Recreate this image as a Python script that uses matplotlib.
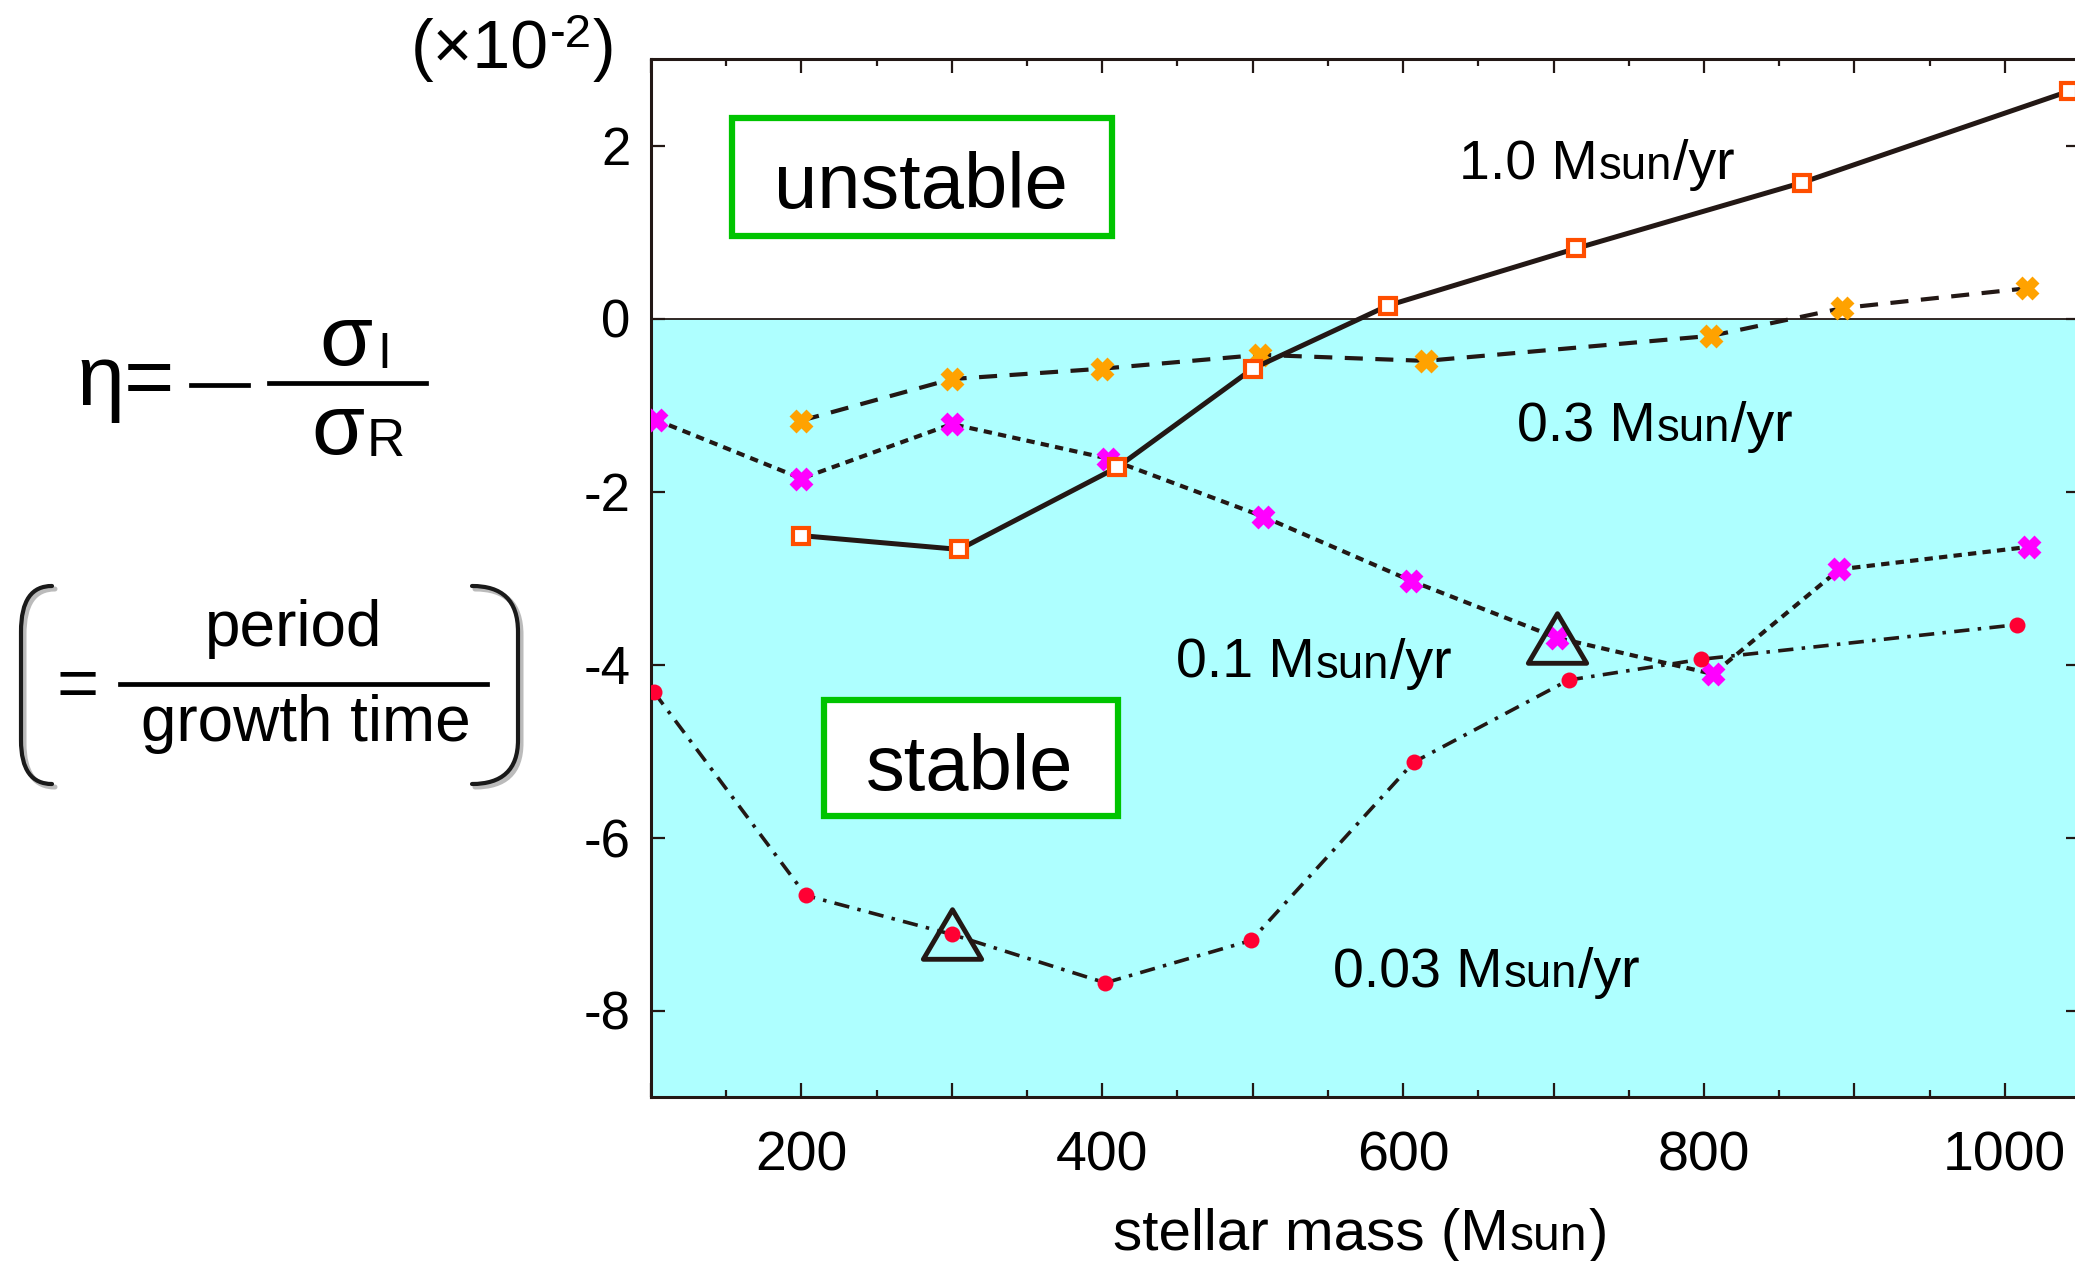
import matplotlib
matplotlib.use("Agg")
import matplotlib.pyplot as plt
import matplotlib.font_manager as fm
from matplotlib.path import Path
from matplotlib.patches import PathPatch, Rectangle
from matplotlib.transforms import IdentityTransform
from matplotlib.lines import Line2D
from matplotlib.markers import MarkerStyle
from matplotlib.ticker import FixedLocator, MultipleLocator

# ---------------- data ----------------
mass_10 = [200, 305, 410, 500, 590, 715, 865, 1043]
eta_10 = [-2.51, -2.67, -1.72, -0.58, 0.15, 0.81, 1.57, 2.63]

mass_03 = [200, 300, 400, 505, 615, 805, 892, 1015]
eta_03 = [-1.18, -0.70, -0.58, -0.42, -0.49, -0.20, 0.12, 0.35]

mass_01 = [103, 200, 300, 404, 507, 605, 702, 806, 890, 1016]
eta_01 = [-1.17, -1.85, -1.22, -1.62, -2.29, -3.03, -3.69, -4.11, -2.90, -2.64]

mass_003 = [102, 203, 300, 402, 499, 607, 710, 798, 1008]
eta_003 = [-4.32, -6.67, -7.12, -7.68, -7.19, -5.13, -4.18, -3.94, -3.54]

tri_mass = [300, 702]
tri_eta = [-7.12, -3.69]

x_major = [100, 200, 300, 400, 500, 600, 700, 800, 900, 1000]
x_labels = ["", "200", "", "400", "", "600", "", "800", "", "1000"]
y_ticks = [-8, -6, -4, -2, 0, 2]
y_labels = ["-8", "-6", "-4", "-2", "0", "2"]

series_labels = ["1.0 M", "0.3 M", "0.1 M", "0.03 M"]

# ---------------- style ----------------
plt.rcParams["font.family"] = ["Liberation Sans", "DejaVu Sans"]
plt.rcParams["axes.unicode_minus"] = False
plt.rcParams["lines.scale_dashes"] = False

names = {f.name for f in fm.fontManager.ttflist}
if "Liberation Sans Narrow" in names:
    SUN_FAM, SUN_SCALE = ["Liberation Sans Narrow", "DejaVu Sans"], 1.0
else:
    SUN_FAM, SUN_SCALE = ["Liberation Sans", "DejaVu Sans"], 0.82

LC = "#231815"
W, H, DPI = 2075, 1261, 100
fig = plt.figure(figsize=(W / DPI, H / DPI), dpi=DPI)
fig.patch.set_facecolor("white")
IDT = IdentityTransform()

# axes placement (pixels)
ax_l, ax_r, ax_t, ax_b = 651, 2080, 59, 1097
ax = fig.add_axes([ax_l / W, 1 - ax_b / H, (ax_r - ax_l) / W, (ax_b - ax_t) / H])
ax.set_xlim(100, 1050)
ax.set_ylim(-9, 3)

ax.axhspan(-9, 0, color="#AEFFFF", zorder=0, lw=0)
ax.axhline(0, color=LC, lw=1.3, zorder=1)

ax.plot(mass_10, eta_10, color=LC, lw=3.6, marker="s", ms=11.5, mfc="white",
        mec="#FF4E00", mew=3.0, zorder=4)
ax.plot(mass_03, eta_03, color=LC, lw=3.0, ls=(0, (13, 9)), marker="X", ms=14,
        mfc="#FFA200", mec="#FFA200", mew=2.0, zorder=3)
ax.plot(mass_01, eta_01, color=LC, lw=3.0, ls=(0, (6, 4.5)), marker="X", ms=14,
        mfc="#FF00FF", mec="#FF00FF", mew=2.0, zorder=3)
ax.plot(mass_003, eta_003, color=LC, lw=2.6, ls=(0, (11, 6, 2.5, 6)), marker="o",
        ms=11.5, mfc="#FF0033", mec="#FF0033", mew=0, zorder=3)

tri_path = Path([(-1, -0.85), (1, -0.85), (0, 0.85), (-1, -0.85)],
                [Path.MOVETO, Path.LINETO, Path.LINETO, Path.CLOSEPOLY])
ax.plot(tri_mass, tri_eta, ls="none", marker=MarkerStyle(tri_path, joinstyle="miter"),
        ms=42, mfc="none", mec=LC, mew=3.5, zorder=6)

ax.xaxis.set_major_locator(FixedLocator(x_major))
ax.set_xticklabels(x_labels)
ax.xaxis.set_minor_locator(MultipleLocator(50))
ax.set_yticks(y_ticks)
ax.set_yticklabels(y_labels)
ax.tick_params(which="both", direction="in", top=True, right=True, color=LC, width=1.6)
ax.tick_params(which="major", length=10)
ax.tick_params(which="minor", length=5)
ax.tick_params(axis="x", labelsize=40, pad=24)
ax.tick_params(axis="y", labelsize=38, pad=15)
for sp in ax.spines.values():
    sp.set_linewidth(2.2)
    sp.set_color(LC)

renderer = fig.canvas.get_renderer()


def rich(x, y, parts):
    """parts: (text, size, dy, family); x,y in px from top-left, y is baseline."""
    for s, size, dy, fam in parts:
        t = fig.text(x, H - (y + dy), s, transform=IDT, ha="left", va="baseline",
                     fontsize=size, family=fam, color="black")
        bb = t.get_window_extent(renderer)
        x = bb.x1 + 1


MAIN = ["Liberation Sans", "DejaVu Sans"]
S = 40
label_pos = [(1459, 179), (1517, 441), (1176, 678), (1333, 987)]
for lab, (px, py) in zip(series_labels, label_pos):
    rich(px, py, [(lab, S, 0, MAIN), ("sun", S * SUN_SCALE, 0, SUN_FAM), ("/yr", S, 0, MAIN)])

# x axis label
rich(1113, 1250, [("stellar mass (M", 42, 0, MAIN), ("sun", 42 * SUN_SCALE, 0, SUN_FAM),
                  (")", 42, 0, MAIN)])

# (x10^-2)
rich(411, 68, [("(×10", 49, 0, MAIN), ("-2", 34, -21, MAIN), (")", 49, 0, MAIN)])

# stable / unstable boxes
for (x0, y0, x1, y1), txt, cx, by in [((732, 118, 1112, 236), "unstable", 921, 208),
                                       ((824, 700, 1118, 816), "stable", 970, 790)]:
    fig.add_artist(Rectangle((x0, H - y1), x1 - x0, y1 - y0, transform=IDT,
                             fc="white", ec="#00C400", lw=4.5, zorder=5))
    fig.text(cx, H - by, txt, transform=IDT, ha="center", va="baseline",
             fontsize=56, color="black", zorder=6)

# equation eta = - sigma_I / sigma_R
fig.text(77, H - 405, "η=", transform=IDT, ha="left", va="baseline", fontsize=62)
fig.add_artist(Line2D([191, 248], [H - 385, H - 385], transform=IDT, color="black", lw=3.4))
fig.add_artist(Line2D([269, 426], [H - 383, H - 383], transform=IDT, color="black", lw=3.4))
fig.text(319, H - 365, "σ", transform=IDT, ha="left", va="baseline", fontsize=62)
fig.text(377, H - 368, "I", transform=IDT, ha="left", va="baseline", fontsize=36)
fig.text(311, H - 454, "σ", transform=IDT, ha="left", va="baseline", fontsize=62)
fig.text(367, H - 456, "R", transform=IDT, ha="left", va="baseline", fontsize=38)

# (= period / growth time)
fig.text(56, H - 707, "=", transform=IDT, ha="left", va="baseline", fontsize=52)
fig.add_artist(Line2D([120, 487], [H - 684, H - 684], transform=IDT, color="black", lw=3.4))
fig.text(294, H - 646, "period", transform=IDT, ha="center", va="baseline", fontsize=46)
fig.text(306, H - 741, "growth time", transform=IDT, ha="center", va="baseline", fontsize=46)


def paren(xe, xv, shadow=False):
    d = 3 if shadow else 0
    xm = xv + 0.35 * (xe - xv)
    pts = [(xe, 586), (xm, 586), (xv, 600), (xv, 632), (xv, 740), (xv, 770), (xm, 784), (xe, 784)]
    verts = [(x + d, H - (y + d)) for x, y in pts]
    codes = [Path.MOVETO, Path.CURVE4, Path.CURVE4, Path.CURVE4, Path.LINETO,
             Path.CURVE4, Path.CURVE4, Path.CURVE4]
    col = "#BBBBBB" if shadow else "#1a1a1a"
    fig.add_artist(PathPatch(Path(verts, codes), transform=IDT, fc="none", ec=col,
                             lw=3.6 if shadow else 3.0, capstyle="round"))


for xe, xv in [(52, 21), (472, 518)]:
    paren(xe, xv, shadow=True)
    paren(xe, xv)

fig.savefig("out.png", dpi=DPI)
